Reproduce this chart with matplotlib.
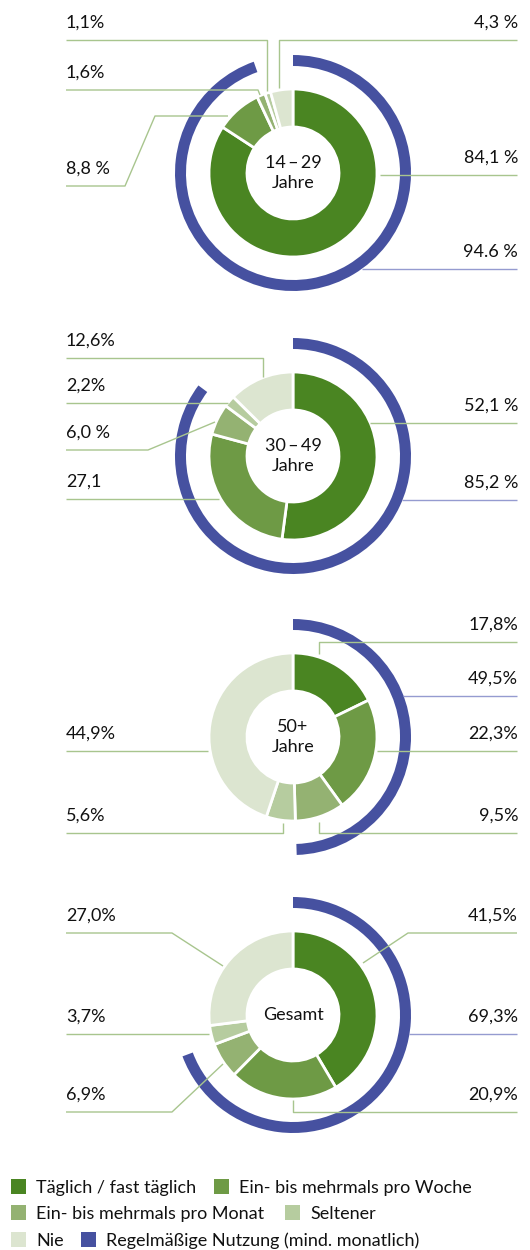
import matplotlib
matplotlib.use("Agg")
import matplotlib.pyplot as plt
from matplotlib.patches import Rectangle

plt.rcParams['font.family'] = ['Lato', 'DejaVu Sans']

# data (percent of respondents)
categories = ['Täglich / fast täglich', 'Ein- bis mehrmals pro Woche',
              'Ein- bis mehrmals pro Monat', 'Seltener', 'Nie']
groups = ['14\u2009–\u200929\nJahre', '30\u2009–\u200949\nJahre', '50+\nJahre', 'Gesamt']
taeglich = [84.1, 52.1, 17.8, 41.5]
woche = [8.8, 27.1, 22.3, 20.9]
monat = [1.6, 6.0, 9.5, 6.9]
seltener = [1.1, 2.2, 5.6, 3.7]
nie = [4.3, 12.6, 44.9, 27.0]
regelmaessig = [94.6, 85.2, 49.5, 69.3]
regel_label = 'Regelmäßige Nutzung (mind. monatlich)'

# label texts as printed in the original
labels_taeglich = ['84,1 %', '52,1 %', '17,8%', '41,5%']
labels_woche = ['8,8 %', '27,1', '22,3%', '20,9%']
labels_monat = ['1,6%', '6,0 %', '9,5%', '6,9%']
labels_seltener = ['1,1%', '2,2%', '5,6%', '3,7%']
labels_nie = ['4,3 %', '12,6%', '44,9%', '27,0%']
labels_regel = ['94.6 %', '85,2 %', '49,5%', '69,3%']

colors = ['#4a8522', '#6e9a45', '#94b272', '#b6cc9f', '#dce5d0']
blue = '#4651a0'
line_green = '#a8c58e'
line_blue = '#959bd0'
text_col = '#111111'

W, H = 530, 1250
CX = 293
centers_y = [173, 456, 737, 1015]

# leader line routes per chart (pixel coords, y from top)
# each entry: side of the label, polyline starting/ending at the label side
leaders = [
    {'taeglich': ('R', [(380, 175), (517, 175)]),
     'woche': ('L', [(66, 186), (125, 186), (155, 116), (228, 116)]),
     'monat': ('L', [(66, 90), (258, 90), (260, 95)]),
     'seltener': ('L', [(66, 40), (267, 40), (267, 91)]),
     'nie': ('R', [(517, 40), (279, 40), (279, 88)]),
     'regel': ('R', [(362, 269), (517, 269)])},
    {'taeglich': ('R', [(370, 423), (517, 423)]),
     'woche': ('L', [(66, 499), (219, 499)]),
     'monat': ('L', [(66, 450), (148, 450), (215, 422)]),
     'seltener': ('L', [(66, 403), (228, 403)]),
     'nie': ('L', [(66, 358), (263, 358), (263, 377)]),
     'regel': ('R', [(402, 500), (517, 500)])},
    {'taeglich': ('R', [(517, 642), (319, 642), (319, 654)]),
     'woche': ('R', [(377, 751), (517, 751)]),
     'monat': ('R', [(517, 833), (319, 833), (319, 822)]),
     'seltener': ('L', [(66, 833), (283, 833), (283, 823)]),
     'nie': ('L', [(66, 751), (208, 751)]),
     'regel': ('R', [(403, 696), (517, 696)])},
    {'taeglich': ('R', [(517, 933), (408, 933), (363, 963)]),
     'woche': ('R', [(517, 1112), (293, 1112), (293, 1100)]),
     'monat': ('L', [(66, 1112), (172, 1112), (223, 1064)]),
     'seltener': ('L', [(66, 1034), (209, 1034)]),
     'nie': ('L', [(66, 933), (172, 933), (223, 966)]),
     'regel': ('R', [(409, 1034), (517, 1034)])},
]

fig = plt.figure(figsize=(W / 100, H / 100), dpi=100)
ax = fig.add_axes([0, 0, 1, 1])


def fy(py):
    return H - py


fs = 13
for i, g in enumerate(groups):
    cy = fy(centers_y[i])
    vals = [taeglich[i], woche[i], monat[i], seltener[i], nie[i]]
    ax.pie(vals, colors=colors, radius=84, center=(CX, cy), startangle=90,
           counterclock=False,
           wedgeprops=dict(width=38, edgecolor='white', linewidth=2))
    ax.pie([regelmaessig[i], 100 - regelmaessig[i]], colors=[blue, 'none'],
           radius=118, center=(CX, cy), startangle=90, counterclock=False,
           wedgeprops=dict(width=11, linewidth=0))
    ax.text(CX, cy, g, ha='center', va='center', fontsize=fs,
            linespacing=1.3, color=text_col)

    texts = {'taeglich': labels_taeglich[i], 'woche': labels_woche[i],
             'monat': labels_monat[i], 'seltener': labels_seltener[i],
             'nie': labels_nie[i], 'regel': labels_regel[i]}
    for key, (side, pts) in leaders[i].items():
        lc = line_blue if key == 'regel' else line_green
        xs = [p[0] for p in pts]
        ys = [fy(p[1]) for p in pts]
        ax.plot(xs, ys, color=lc, lw=1.0, solid_capstyle='butt')
        # the label sits just above the horizontal run at the outer end
        ly = min(pts, key=lambda p: abs(p[0] - (66 if side == 'L' else 517)))[1]
        if side == 'L':
            ax.text(66, fy(ly - 12), texts[key], ha='left', va='baseline',
                    fontsize=fs, color=text_col)
        else:
            ax.text(518, fy(ly - 12), texts[key], ha='right', va='baseline',
                    fontsize=fs, color=text_col)

# legend (flow layout as in the original)
legend_items = [
    (categories[0], colors[0], 11, 1186), (categories[1], colors[1], 214, 1186),
    (categories[2], colors[2], 11, 1212), (categories[3], colors[3], 285, 1212),
    (categories[4], colors[4], 11, 1239), (regel_label, blue, 81, 1239),
]
for text, col, x0, yc in legend_items:
    ax.add_patch(Rectangle((x0, fy(yc + 8)), 15, 15, color=col, lw=0))
    ax.text(x0 + 25, fy(yc + 7), text, ha='left', va='baseline',
            fontsize=fs, color=text_col)

ax.set_xlim(0, W)
ax.set_ylim(0, H)
ax.set_aspect('auto')
ax.axis('off')
fig.savefig('out.png', dpi=100, facecolor='white')
